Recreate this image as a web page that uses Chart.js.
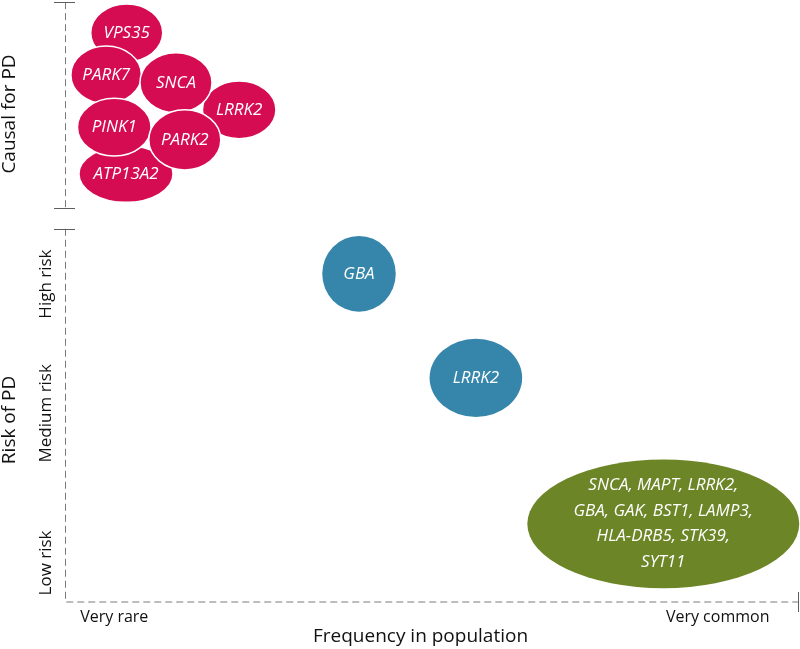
<!DOCTYPE html>
<html>
<head>
<meta charset="utf-8">
<script src="https://cdn.jsdelivr.net/npm/chart.js@4"></script>
<style>
  body { margin: 0; background: #fff; }
  #wrap { width: 800px; height: 649px; }
</style>
</head>
<body>
<div id="wrap"><canvas id="pdChart"></canvas></div>
<script>
// axes run 0..100 on both directions
const causalGenes = ['VPS35', 'ATP13A2', 'LRRK2', 'PARK7', 'SNCA', 'PINK1', 'PARK2']; // drawing order
const causalX = [8.4, 8.3, 23.7, 5.6, 15.1, 6.7, 16.3];
const causalY = [94.7, 71.2, 81.9, 87.7, 86.4, 79.0, 76.9];
const causalW = [4.9, 6.4, 5.0, 4.8, 4.9, 5.0, 4.9];   // half width, x units
const causalH = [4.8, 4.7, 4.8, 4.8, 5.0, 4.8, 5.0];   // half height, y units

const riskGenes = ['GBA', 'LRRK2'];
const riskX = [40.0, 55.9];
const riskY = [54.6, 37.3];
const riskW = [5.0, 6.3];
const riskH = [6.3, 6.5];

const commonGenes = ['SNCA, MAPT, LRRK2,\nGBA, GAK, BST1, LAMP3,\nHLA-DRB5, STK39,\nSYT11'];
const commonX = [81.4];
const commonY = [13.0];
const commonW = [18.5];
const commonH = [10.7];

const xTickLabels = ['Very rare', 'Very common'];
const xTickValues = [6.7, 88.8];
const yTickLabels = ['Low risk', 'Medium risk', 'High risk'];
const yTickValues = [6.5, 31.4, 52.9];
const causalTop = 99.8;
const causalBottom = 65.6;
const riskTop = 62.1;

function points(names, xs, ys, ws, hs) {
    return names.map((n, i) => ({ x: xs[i], y: ys[i], w: ws[i], h: hs[i], label: n }));
}

const ellipsePlugin = {
    id: 'ellipses',
    afterDatasetsDraw(chart) {
        const { ctx, scales: { x, y } } = chart;
        chart.data.datasets.forEach((ds, i) => {
            const meta = chart.getDatasetMeta(i);
            meta.data.forEach((pt, j) => {
                const raw = ds.data[j];
                const rx = x.getPixelForValue(raw.w) - x.getPixelForValue(0);
                const ry = y.getPixelForValue(0) - y.getPixelForValue(raw.h);
                ctx.save();
                ctx.beginPath();
                ctx.ellipse(pt.x, pt.y, rx, ry, 0, 0, Math.PI * 2);
                ctx.fillStyle = ds.fillColor;
                ctx.fill();
                if (ds.outline) {
                    ctx.lineWidth = 1.5;
                    ctx.strokeStyle = '#ffffff';
                    ctx.stroke();
                }
                ctx.fillStyle = '#ffffff';
                ctx.font = 'italic 17px "Open Sans"';
                ctx.textAlign = 'center';
                ctx.textBaseline = 'middle';
                const lines = raw.label.split('\n');
                const lh = 25.5;
                lines.forEach((ln, k) => {
                    ctx.fillText(ln, pt.x, pt.y + (k - (lines.length - 1) / 2) * lh);
                });
                ctx.restore();
            });
        });
    }
};

const axesPlugin = {
    id: 'pdAxes',
    beforeDatasetsDraw(chart) {
        const { ctx, scales: { x, y } } = chart;
        const x0 = x.getPixelForValue(0);
        const x1 = x.getPixelForValue(100);
        const y0 = y.getPixelForValue(0);
        ctx.save();
        ctx.strokeStyle = '#7a7a7a';
        ctx.lineWidth = 1;
        ctx.setLineDash([7, 4]);
        ctx.beginPath();
        ctx.moveTo(x0 + 0.5, y.getPixelForValue(causalTop));
        ctx.lineTo(x0 + 0.5, y.getPixelForValue(causalBottom));
        ctx.moveTo(x0 + 0.5, y.getPixelForValue(riskTop));
        ctx.lineTo(x0 + 0.5, y0);
        ctx.lineTo(x1 - 1, y0);
        ctx.stroke();

        // end marks
        ctx.setLineDash([]);
        ctx.strokeStyle = '#5e5e5e';
        ctx.beginPath();
        [causalTop, causalBottom, riskTop].forEach(v => {
            const py = Math.round(y.getPixelForValue(v)) + 0.5;
            ctx.moveTo(x0 - 11, py);
            ctx.lineTo(x0 + 10, py);
        });
        ctx.moveTo(x1 - 1.5, y0 - 10);
        ctx.lineTo(x1 - 1.5, y0 + 10);
        ctx.stroke();

        // labels
        ctx.fillStyle = '#111111';
        ctx.textAlign = 'center';
        ctx.textBaseline = 'middle';
        ctx.font = '16px "Open Sans"';
        xTickLabels.forEach((t, i) => {
            ctx.fillText(t, x.getPixelForValue(xTickValues[i]), y0 + 15);
        });
        ctx.font = '19px "Open Sans"';
        ctx.fillText('Frequency in population', (x0 + x1) / 2 - 12, y0 + 35);

        const rot = (txt, px, py, font) => {
            ctx.save();
            ctx.translate(px, py);
            ctx.rotate(-Math.PI / 2);
            ctx.font = font;
            ctx.fillText(txt, 0, 0);
            ctx.restore();
        };
        yTickLabels.forEach((t, i) => {
            rot(t, x0 - 19, y.getPixelForValue(yTickValues[i]), '17px "Open Sans"');
        });
        rot('Causal for PD', 10, y.getPixelForValue((causalTop + causalBottom) / 2 - 1.5), '19px "Open Sans"');
        rot('Risk of PD', 10, y.getPixelForValue(30.3), '19px "Open Sans"');
        ctx.restore();
    }
};

new Chart(document.getElementById('pdChart'), {
    type: 'scatter',
    data: {
        datasets: [
            { label: 'Causal', data: points(causalGenes, causalX, causalY, causalW, causalH), fillColor: '#d50c52', outline: true },
            { label: 'Risk', data: points(riskGenes, riskX, riskY, riskW, riskH), fillColor: '#3586aa', outline: false },
            { label: 'Common', data: points(commonGenes, commonX, commonY, commonW, commonH), fillColor: '#6c8527', outline: false }
        ]
    },
    options: {
        responsive: true,
        maintainAspectRatio: false,
        animation: false,
        layout: { padding: { left: 65, right: 0, top: 1, bottom: 47 } },
        elements: { point: { radius: 0, hoverRadius: 0 } },
        scales: {
            x: { type: 'linear', min: 0, max: 100, display: false },
            y: { type: 'linear', min: 0, max: 100, display: false }
        },
        plugins: {
            legend: { display: false },
            tooltip: { enabled: false }
        }
    },
    plugins: [axesPlugin, ellipsePlugin]
});
</script>
</body>
</html>
